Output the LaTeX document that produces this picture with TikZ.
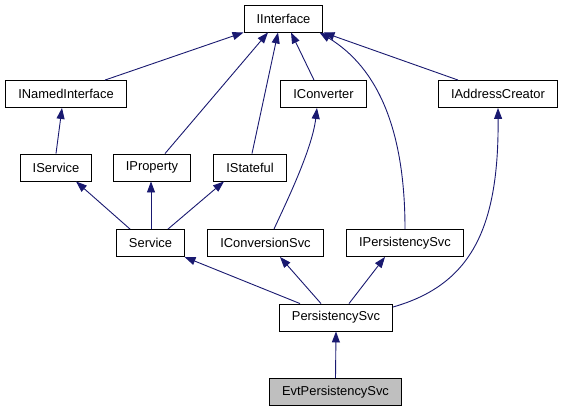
\documentclass[tikz,border=0pt]{standalone}
\usepackage{fontspec}
\setmainfont{Liberation Sans}
\usetikzlibrary{arrows.meta}
\definecolor{edgeblue}{HTML}{191970}

\tikzset{
  every class/.style={draw, rectangle, line width=0.9pt, minimum height=27pt,
    inner xsep=12.5pt, inner ysep=0pt, font=\fontsize{12.9}{14}\selectfont},
  class evt/.style={fill=black!25},
  every edge line/.style={edgeblue, line width=0.9pt}
}

\begin{document}
\begin{tikzpicture}[x=1pt, y=-1pt, >={Triangle[length=11pt,width=8pt]}]
\useasboundingbox (0,0) rectangle (561,410);

\foreach \n/\l/\x/\y in {iinterface/IInterface/283.5/18.5,
    inamed/INamedInterface/66/94, iconverter/IConverter/323.5/94,
    iaddress/IAddressCreator/498/94,
    iservice/IService/56/167.5, iproperty/IProperty/152/167.5,
    istateful/IStateful/250/167.5,
    service/Service/150.5/243, iconvsvc/IConversionSvc/265.5/243,
    ipersist/IPersistencySvc/405/243,
    persist/PersistencySvc/336/317.5, evt/EvtPersistencySvc/335.5/392}
  \node [every class/.try, class \n/.try] (\n) at (\x,\y) {\l};

\foreach \a/\sa/\b/\sb in {inamed/39/iinterface/-40,
    iproperty/13/iinterface/-15.5, istateful/2/iinterface/-5.5,
    iconverter/-9.5/iinterface/7.5, iaddress/-40/iinterface/40,
    iservice/0/inamed/-4, service/-20.5/iservice/20,
    service/0.5/iproperty/-1, service/17.5/istateful/-26,
    persist/-36/service/34, persist/-15/iconvsvc/14.5,
    persist/13/ipersist/-20, evt/0/persist/0}
  \draw [->, every edge line/.try] ([xshift=\sa pt]\a.north) -- ([xshift=\sb pt]\b.south);

% curved edges
\draw [->, every edge line/.try] ([xshift=8.5pt]iconvsvc.north)
  .. controls (285,205) and (312,150) .. ([xshift=-6.5pt]iconverter.south);
\draw [->, every edge line/.try] (ipersist.north)
  .. controls (405,130) and (378,68) .. ([xshift=36pt]iinterface.south);
\draw [->, every edge line/.try] ([yshift=10.5pt]persist.east)
  .. controls (470,285) and (499,230) .. (iaddress.south);
\end{tikzpicture}
\end{document}
